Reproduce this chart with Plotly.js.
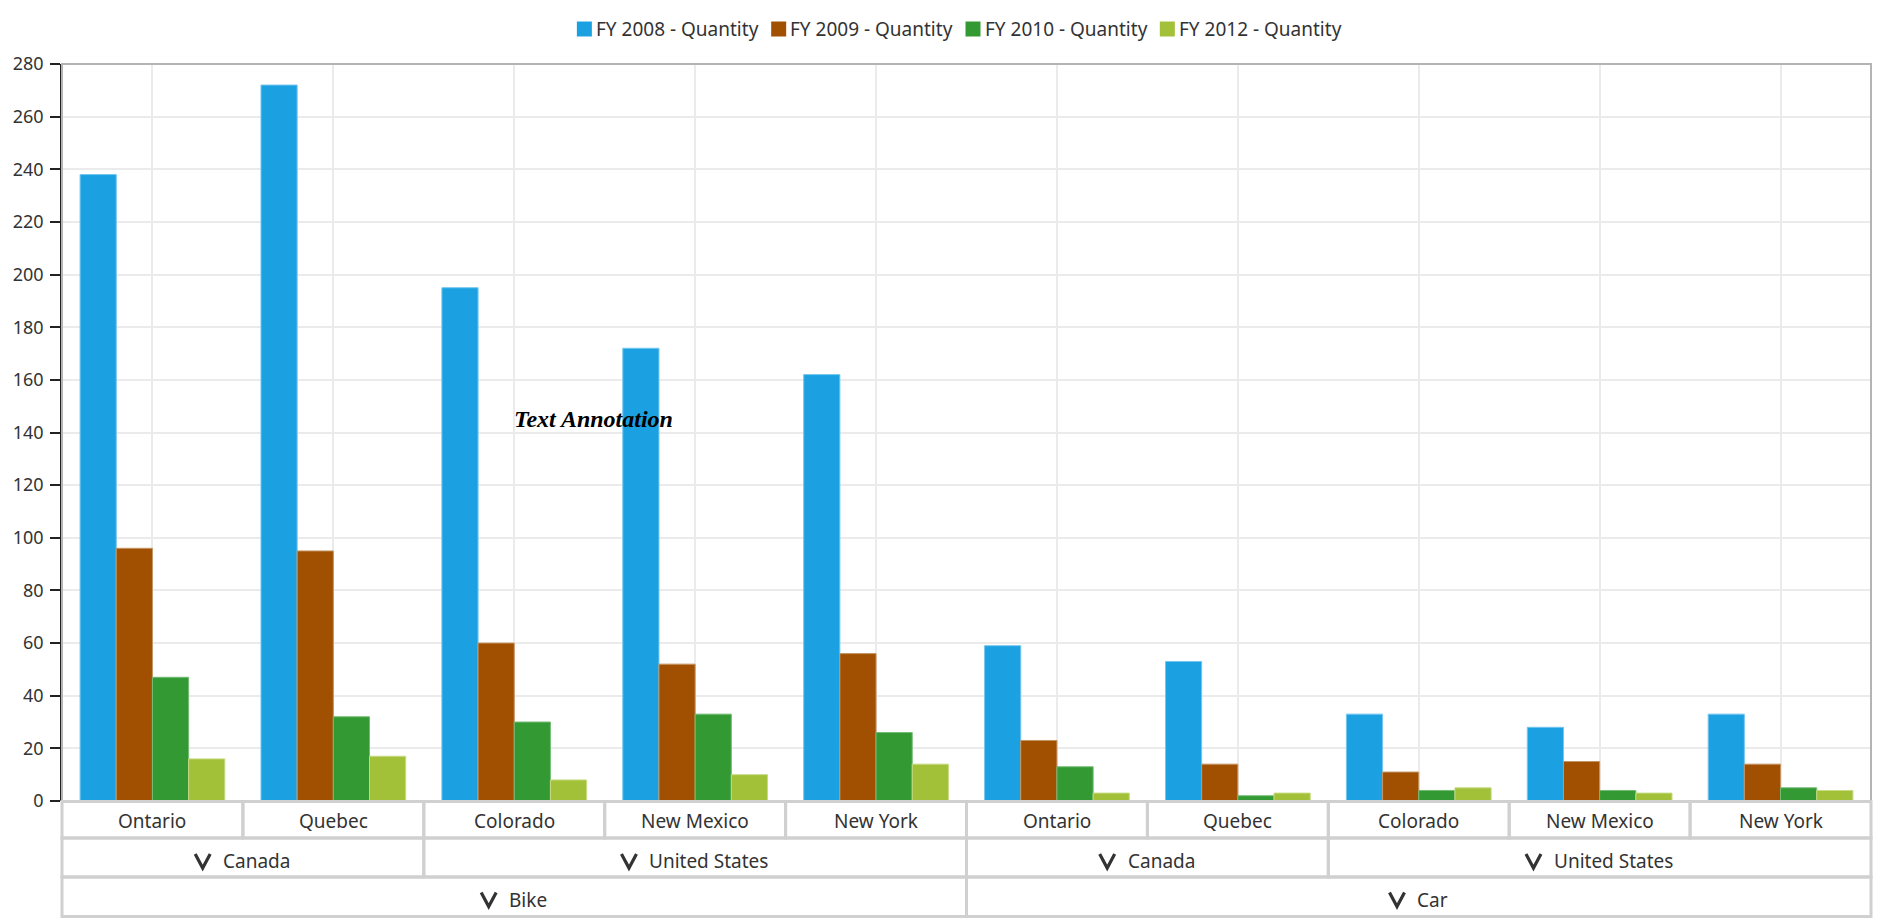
<!DOCTYPE html>
<html>
<head>
<meta charset="utf-8">
<title>Quantity by Region</title>
<script src="https://cdn.plot.ly/plotly-3.0.1.min.js"></script>
<style>
  html, body { margin: 0; padding: 0; background: #ffffff; }
  #chart { width: 1878px; height: 923px; }
</style>
</head>
<body>
<div id="chart"></div>
<script>
// Categories (innermost level first) and their parent groups
const categories = ['Ontario', 'Quebec', 'Colorado', 'New Mexico', 'New York',
                    'Ontario', 'Quebec', 'Colorado', 'New Mexico', 'New York'];
const countries = ['Canada', 'Canada', 'United States', 'United States', 'United States',
                   'Canada', 'Canada', 'United States', 'United States', 'United States'];
const vehicles = ['Bike', 'Bike', 'Bike', 'Bike', 'Bike',
                  'Car', 'Car', 'Car', 'Car', 'Car'];

// Series
const seriesNames = ['FY 2008 - Quantity', 'FY 2009 - Quantity', 'FY 2010 - Quantity', 'FY 2012 - Quantity'];
const fy2008 = [238, 272, 195, 172, 162, 59, 53, 33, 28, 33];
const fy2009 = [96, 95, 60, 52, 56, 23, 14, 11, 15, 14];
const fy2010 = [47, 32, 30, 33, 26, 13, 2, 4, 4, 5];
const fy2012 = [16, 17, 8, 10, 14, 3, 3, 5, 3, 4];

// Value axis ticks
const yTicks = [0, 20, 40, 60, 80, 100, 120, 140, 160, 180, 200, 220, 240, 260, 280];

// Free-floating note
const noteText = 'Text Annotation';
const noteCategory = 2;
const noteValue = 145;

// ---- styling / geometry ----
const W = 1878, H = 923;
const M = { l: 62, r: 7, t: 64, b: 122 };
const plotW = W - M.l - M.r;
const plotH = H - M.t - M.b;
const plotBottom = H - M.b;
const colors = ['#1ba1e2', '#a05000', '#339933', '#a2c139'];
const edgeColors = ['#74c6ee', '#c49464', '#74bb74', '#c6da82'];
const FONT = '"Noto Sans", "Open Sans", sans-serif';
const TEXT = '#333333';
const BOX = '#d0d0d0';
const xRange = [-0.5, categories.length - 0.5];

const paperX = px => (px - M.l) / plotW;
const paperY = py => (plotBottom - py) / plotH;
const idxToPaper = v => (v - xRange[0]) / (xRange[1] - xRange[0]);

const canvas = document.createElement('canvas');
const ctx = canvas.getContext('2d');
function textWidth(str, size) {
  ctx.font = size + 'px ' + FONT;
  return ctx.measureText(str).width;
}

const xIdx = categories.map((_, i) => i);
const seriesValues = [fy2008, fy2009, fy2010, fy2012];

const traces = seriesValues.map((vals, s) => ({
  type: 'bar',
  name: seriesNames[s],
  x: xIdx,
  y: vals,
  customdata: categories.map((c, i) => vehicles[i] + ' / ' + countries[i] + ' / ' + c),
  hovertemplate: '%{customdata}<br>' + seriesNames[s] + ': %{y}<extra></extra>',
  marker: { color: colors[s], line: { color: edgeColors[s], width: 1 } },
  showlegend: false
}));

const shapes = [];
const annotations = [];

// Plot frame
shapes.push({
  type: 'rect', xref: 'paper', yref: 'paper', x0: 0, x1: 1, y0: 0, y1: 1,
  line: { color: '#b4b4b4', width: 2 }, fillcolor: 'rgba(0,0,0,0)', layer: 'above'
});

// Legend row across the top
const legendFont = 19, sw = 15, swGap = 4, itemGap = 13;
const legendWidths = seriesNames.map(n => sw + swGap + textWidth(n, legendFont));
const legendTotal = legendWidths.reduce((a, b) => a + b, 0) + itemGap * (seriesNames.length - 1);
let lx = 959 - legendTotal / 2;
const legendY = 29;
seriesNames.forEach((n, s) => {
  shapes.push({
    type: 'rect', xref: 'paper', yref: 'paper',
    x0: paperX(lx), x1: paperX(lx + sw),
    y0: paperY(legendY + sw / 2), y1: paperY(legendY - sw / 2),
    fillcolor: colors[s], line: { width: 0 }
  });
  annotations.push({
    xref: 'paper', yref: 'paper', x: paperX(lx + sw + swGap), y: paperY(legendY),
    xanchor: 'left', yanchor: 'middle', showarrow: false, text: n,
    font: { family: FONT, size: legendFont, color: TEXT }, borderpad: 0, borderwidth: 0
  });
  lx += legendWidths[s] + itemGap;
});

// Header rows below the plot: categories, countries, vehicles
const rows = [
  { labels: categories, top: 801.5, bottom: 838, mid: 821, chevron: false },
  { labels: countries.map((c, i) => vehicles[i] + '|' + c), top: 838, bottom: 877, mid: 861, chevron: true },
  { labels: vehicles, top: 877, bottom: 916.5, mid: 899.5, chevron: true }
];
const labelFont = 19;
rows.forEach(row => {
  // collapse consecutive equal keys into spans
  const spans = [];
  row.labels.forEach((key, i) => {
    const last = spans[spans.length - 1];
    if (last && last.key === key) last.end = i;
    else spans.push({ key: key, start: i, end: i });
  });
  spans.forEach(sp => {
    const label = sp.key.split('|').pop();
    shapes.push({
      type: 'rect', xref: 'paper', yref: 'paper',
      x0: idxToPaper(sp.start - 0.5), x1: idxToPaper(sp.end + 0.5),
      y0: paperY(row.bottom), y1: paperY(row.top),
      line: { color: BOX, width: 3 }, fillcolor: 'rgba(0,0,0,0)'
    });
    const cx = idxToPaper((sp.start + sp.end) / 2);
    if (!row.chevron) {
      annotations.push({
        xref: 'paper', yref: 'paper', x: cx, y: paperY(row.mid),
        xanchor: 'center', yanchor: 'middle', showarrow: false, text: label,
        font: { family: FONT, size: labelFont, color: TEXT }, borderpad: 0, borderwidth: 0
      });
    } else {
      const chW = 15, chGap = 13;
      const group = chW + chGap + textWidth(label, labelFont);
      const a = -group / 2;
      shapes.push({
        type: 'path', xref: 'paper', yref: 'paper',
        xsizemode: 'pixel', ysizemode: 'pixel',
        xanchor: cx, yanchor: paperY(row.mid),
        path: 'M' + a + ',7 L' + (a + chW / 2) + ',-7 L' + (a + chW) + ',7',
        line: { color: TEXT, width: 3.2 }
      });
      annotations.push({
        xref: 'paper', yref: 'paper', x: cx, y: paperY(row.mid),
        xanchor: 'left', yanchor: 'middle', xshift: a + chW + chGap, showarrow: false, text: label,
        font: { family: FONT, size: labelFont, color: TEXT }, borderpad: 0, borderwidth: 0
      });
    }
  });
});

// Note inside the plot
annotations.push({
  xref: 'x', yref: 'y', x: noteCategory, y: noteValue,
  xanchor: 'left', yanchor: 'middle', showarrow: false,
  text: '<b><i>' + noteText + '</i></b>',
  font: { family: '"Liberation Serif", "Times New Roman", serif', size: 24, color: '#000000' },
  borderpad: 0, borderwidth: 0
});

const layout = {
  width: W, height: H,
  margin: M,
  paper_bgcolor: '#ffffff', plot_bgcolor: '#ffffff',
  barmode: 'group', bargap: 0.2, bargroupgap: 0,
  showlegend: false,
  font: { family: FONT, color: TEXT },
  xaxis: {
    type: 'linear', range: xRange, fixedrange: true,
    tickvals: xIdx, showticklabels: false, ticks: '',
    showgrid: true, gridcolor: '#ebebeb', gridwidth: 1.5,
    zeroline: false, showline: false
  },
  yaxis: {
    range: [0, 280], fixedrange: true,
    tickvals: yTicks, ticktext: yTicks.map(String),
    ticks: 'outside', ticklen: 10, tickwidth: 1.5, tickcolor: '#222222',
    showline: true, linecolor: '#222222', linewidth: 1.5,
    showgrid: true, gridcolor: '#ebebeb', gridwidth: 1.5,
    zeroline: false,
    tickfont: { family: FONT, size: 18, color: TEXT },
    ticklabelstandoff: 3
  },
  shapes: shapes,
  annotations: annotations
};

Plotly.newPlot('chart', traces, layout, { displayModeBar: false, staticPlot: false });
</script>
</body>
</html>
